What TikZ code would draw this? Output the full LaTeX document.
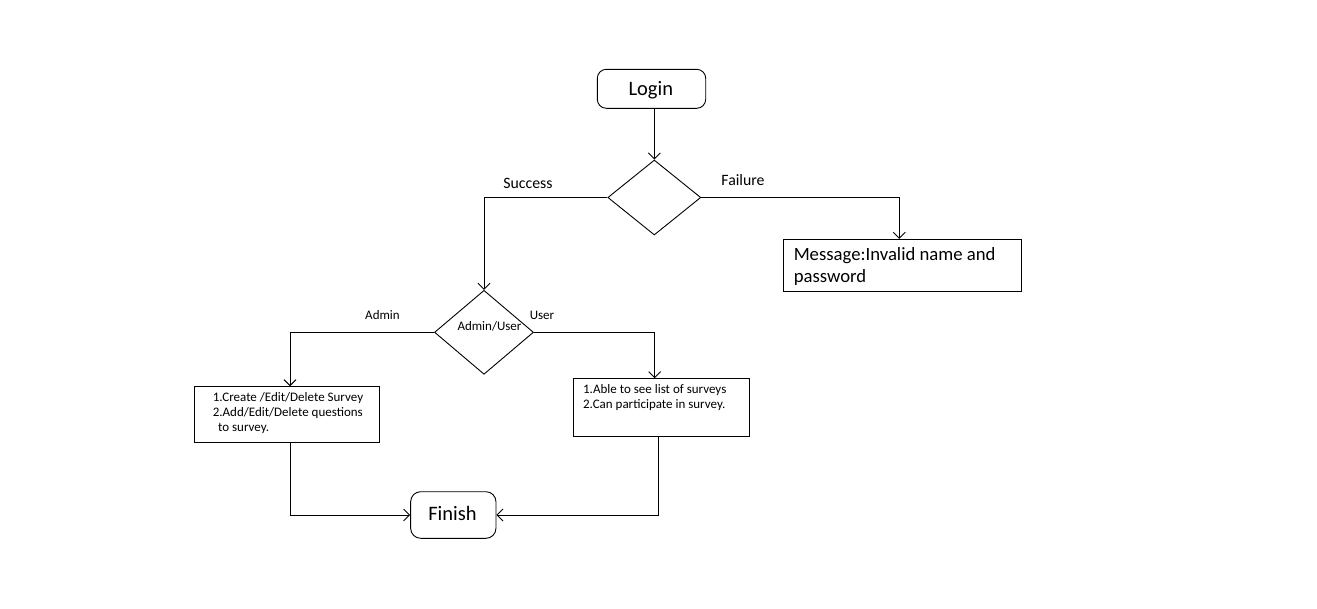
\documentclass[tikz,border=0pt]{standalone}
\usepackage{fontspec}
\setmainfont{Carlito}
\usetikzlibrary{arrows.meta,shapes.geometric}
\begin{document}
\begin{tikzpicture}[x=1pt,y=-1pt,line width=0.9pt,
  arr/.style={-{Straight Barb[length=6pt,width=12pt]}},
  term/.style={draw,rounded corners=9pt,inner sep=0pt},
  dec/.style={draw,diamond,inner sep=0pt},
  box/.style={draw,inner sep=0pt},
  txt/.style={inner sep=0pt},
  big/.style={txt,font=\fontsize{20.5}{24}\selectfont},
  mid/.style={txt,font=\fontsize{18.7}{22}\selectfont},
  lab/.style={txt,font=\fontsize{15.8}{19}\selectfont},
  sml/.style={txt,font=\fontsize{13}{15}\selectfont}]
\fill[white] (0,0) rectangle (1317,608);
\useasboundingbox (0,0) rectangle (1317,608);

% shapes
\node[term,minimum width=108.4pt,minimum height=39pt] (login) at (651.5,88.8) {};
\node[big,anchor=base] (logintxt) at (650.8,95) {Login};
\node[dec,minimum width=93pt,minimum height=75pt] (d1) at (654.3,197.5) {};
\node[box,minimum width=238.4pt,minimum height=51.7pt] (msg) at (902.5,265.2) {};
\node[mid,anchor=base west] (msg1) at (793.3,260) {Message:Invalid name and};
\node[mid,anchor=base west] (msg2) at (793.3,282) {password};
\node[dec,minimum width=99pt,minimum height=84pt] (d2) at (484,332.3) {};
\node[sml,anchor=base] (d2txt) at (489.5,330) {Admin/User};
\node[box,minimum width=185pt,minimum height=55.6pt] (abox) at (286.8,414.5) {};
\node[sml,anchor=base west] (a1) at (212.3,401.7) {1.Create /Edit/Delete Survey};
\node[sml,anchor=base west] (a2) at (212.3,416.7) {2.Add/Edit/Delete questions};
\node[sml,anchor=base west] (a3) at (217.7,431.7) {to survey.};
\node[box,minimum width=176pt,minimum height=57.6pt] (ubox) at (661.3,407.5) {};
\node[sml,anchor=base west] (u1) at (582.7,393.3) {1.Able to see list of surveys};
\node[sml,anchor=base west] (u2) at (582.7,408.3) {2.Can participate in survey.};
\node[term,rounded corners=10pt,minimum width=85.3pt,minimum height=46.6pt] (finish) at (453.3,515) {};
\node[big,anchor=base] (finishtxt) at (452.5,520.7) {Finish};

% labels
\node[lab,anchor=base] (success) at (528,188) {Success};
\node[lab,anchor=base] (failure) at (743,185) {Failure};
\node[sml,anchor=base] (admin) at (382.5,319.3) {Admin};
\node[sml,anchor=base] (user) at (542,319) {User};

% helper coordinates
\coordinate (fx) at (899.3,195);
\coordinate (ax) at (290,0);
\coordinate (ux) at (654.7,0);
\coordinate (ux2) at (658.3,0);

% connectors
\draw[arr] (d1.north |- login.south) -- (d1.north);
\draw[arr] (d1.west) -| (d2.north);
\draw[arr] (d1.east) -- (d1.east -| fx) -- (msg.north -| fx);
\draw[arr] (d2.west) -- (d2.west -| ax) -- (abox.north -| ax);
\draw[arr] (d2.east) -- (d2.east -| ux) -- (ubox.north -| ux);
\draw[arr] (abox.south -| ax) |- (finish.west);
\draw[arr] (ubox.south -| ux2) |- (finish.east);
\end{tikzpicture}
\end{document}
